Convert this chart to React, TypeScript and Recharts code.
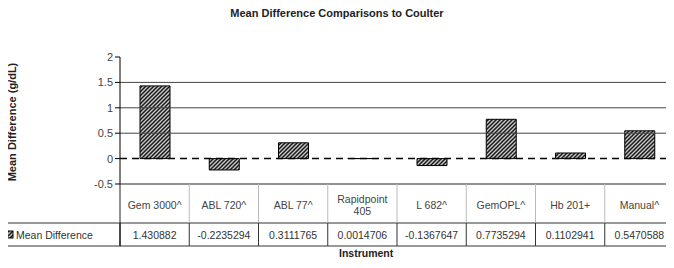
import { Bar, BarChart, ReferenceLine, XAxis, YAxis } from "recharts";

const categories = ["Gem 3000^", "ABL 720^", "ABL 77^", "Rapidpoint 405", "L 682^", "GemOPL^", "Hb 201+", "Manual^"];
const meanDifference = [1.430882, -0.2235294, 0.3111765, 0.0014706, -0.1367647, 0.7735294, 0.1102941, 0.5470588];
const yTicks = [-0.5, 0, 0.5, 1, 1.5, 2];
const gridValues = [0.5, 1, 1.5];
const seriesName = "Mean Difference";

const data = categories.map((name, i) => ({ name, value: meanDifference[i] }));

const W = 674;
const H = 268;
const AXIS_W = 120;
const cellW = (W - AXIS_W) / categories.length;
const HEAD_H = 39;
const ROW_H = 23;
const font = "'Liberation Sans', Arial, sans-serif";

function TableTick(props: any) {
  const { x, y, payload, index } = props;
  const left = x - cellW / 2;
  const label: string = payload.value;
  const cut = label.lastIndexOf(" ");
  const lines = label.length > 10 ? [label.slice(0, cut), label.slice(cut + 1)] : [label];
  return (
    <g fontFamily={font}>
      {index > 0 && <line x1={left} x2={left} y1={y} y2={y + HEAD_H} stroke="#bbb" />}
      {lines.map((l, i) => (
        <text key={i} x={x} y={y + HEAD_H / 2 + 5 + (i - (lines.length - 1) / 2) * 12} textAnchor="middle" fontSize={10.5} fill="#444">
          {l}
        </text>
      ))}
      <line x1={left} x2={left + cellW} y1={y + HEAD_H} y2={y + HEAD_H} stroke="#333" />
      <line x1={left} x2={left + cellW} y1={y + HEAD_H + ROW_H} y2={y + HEAD_H + ROW_H} stroke="#333" />
      <line x1={left} x2={left} y1={y + HEAD_H} y2={y + HEAD_H + ROW_H} stroke="#333" />
      <text x={x} y={y + HEAD_H + ROW_H / 2 + 4} textAnchor="middle" fontSize={10.5} fill="#333">
        {String(meanDifference[index])}
      </text>
      {index === 0 && (
        <g>
          <line x1={left} x2={left} y1={y} y2={y + HEAD_H + ROW_H} stroke="#222" />
          <rect x={3} y={y + HEAD_H} width={left - 3} height={ROW_H} fill="none" stroke="#333" />
          <rect x={6} y={y + HEAD_H + 8} width={7} height={7} fill="url(#hatch)" stroke="#000" />
          <text x={16} y={y + HEAD_H + ROW_H / 2 + 4} fontSize={10.5} fill="#333">
            {seriesName}
          </text>
        </g>
      )}
    </g>
  );
}

export default function App() {
  return (
    <div style={{ margin: -8, width: W, height: H, position: "relative", overflow: "hidden", background: "#fff", fontFamily: font }}>
      <div style={{ position: "absolute", left: 0, width: W, top: 7, textAlign: "center", fontSize: 11, fontWeight: "bold", color: "#222" }}>
        Mean Difference Comparisons to Coulter
      </div>
      <div
        style={{
          position: "absolute",
          left: 12,
          top: 122,
          transform: "translate(-50%, -50%) rotate(-90deg)",
          whiteSpace: "nowrap",
          fontSize: 11,
          fontWeight: "bold",
          color: "#222",
        }}
      >
        Mean Difference (g/dL)
      </div>
      <div style={{ position: "absolute", left: 339, top: 247, fontSize: 10.5, fontWeight: "bold", color: "#222" }}>Instrument</div>
      <BarChart width={W} height={H} data={data} margin={{ top: 57, right: 0, left: 0, bottom: 0 }}>
        <defs>
          <pattern id="hatch" patternUnits="userSpaceOnUse" width="4" height="4">
            <rect width="4" height="4" fill="#c8c8c8" />
            <path d="M0,4 L4,0 M-1,1 L1,-1 M3,5 L5,3" stroke="#1a1a1a" strokeWidth="1.5" />
          </pattern>
        </defs>
        <YAxis
          width={AXIS_W}
          domain={[-0.5, 2]}
          ticks={yTicks}
          interval={0}
          axisLine={{ stroke: "#000" }}
          tickLine={{ stroke: "#000" }}
          tickSize={5}
          tick={{ fontSize: 11, fill: "#444", fontFamily: font }}
        />
        <XAxis dataKey="name" height={H - 184} axisLine={{ stroke: "#222" }} tickLine={false} tickSize={0} tickMargin={0} interval={0} tick={<TableTick />} />
        {gridValues.map((v) => (
          <ReferenceLine key={v} y={v} stroke="#444" />
        ))}
        <ReferenceLine y={0} stroke="#000" strokeWidth={1.5} strokeDasharray="7 5" />
        <Bar dataKey="value" fill="url(#hatch)" stroke="#000" strokeWidth={1} barSize={30} isAnimationActive={false} />
      </BarChart>
    </div>
  );
}
